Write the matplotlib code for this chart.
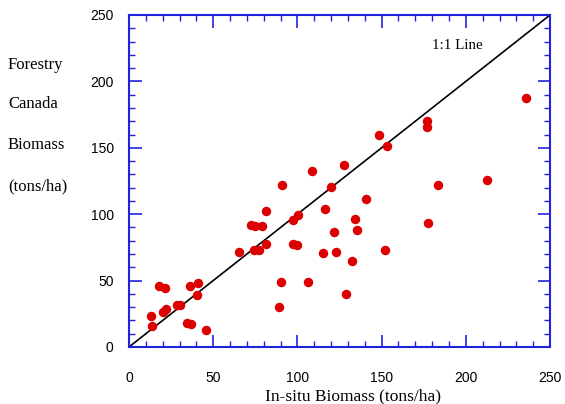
import matplotlib
matplotlib.use("Agg")
import matplotlib.pyplot as plt
from matplotlib.ticker import MultipleLocator

insitu = [12.9, 13.7, 18.0, 21.2, 20.0, 22.0, 28.7, 30.3, 34.2, 37.0, 36.2, 41.2, 40.2, 45.7,
          65.5, 74.2, 77.0, 81.4, 90.1, 89.3, 97.2, 99.6, 106.1, 115.4, 122.7, 121.9, 135.2,
          132.2, 128.7, 152.2, 72.3, 74.8, 78.8, 81.4, 91.0, 97.6, 100.4, 108.7, 120.1, 116.4,
          127.7, 134.4, 140.9, 148.3, 153.0, 176.8, 176.8, 183.3, 177.6, 212.4, 235.7]
forestry = [23.1, 15.8, 45.7, 44.4, 26.6, 28.8, 31.4, 31.4, 18.3, 17.0, 45.7, 48.0, 39.4, 12.5,
            71.8, 73.0, 72.8, 77.6, 49.2, 30.1, 77.8, 76.6, 49.2, 70.8, 71.8, 86.8, 88.1,
            64.8, 39.7, 72.8, 92.1, 90.9, 90.9, 102.6, 121.7, 95.4, 99.2, 132.3, 120.5, 103.9,
            137.0, 96.6, 111.2, 159.6, 151.4, 165.4, 170.4, 121.7, 93.1, 125.5, 187.3]
line_xy = [0, 250]
xticks = [0, 50, 100, 150, 200, 250]
yticks = [0, 50, 100, 150, 200, 250]
ylabel_lines = ["Forestry", "Canada", "Biomass", "(tons/ha)"]

blue = "#2222dd"
fig = plt.figure(figsize=(5.65, 4.04), dpi=100)
ax = fig.add_axes([0.2283, 0.1411, 0.9735 - 0.2283, 0.9629 - 0.1411])
ax.plot(line_xy, line_xy, color="black", lw=1.2, zorder=2)
ax.plot(insitu, forestry, "o", color="#dd0000", ms=5.8, mec="#dd0000", zorder=3)
ax.set_xlim(0, 250)
ax.set_ylim(0, 250)
ax.set_xticks(xticks)
ax.set_yticks(yticks)
ax.xaxis.set_minor_locator(MultipleLocator(10))
ax.yaxis.set_minor_locator(MultipleLocator(10))
for s in ax.spines.values():
    s.set_color(blue)
    s.set_linewidth(1.5)
ax.tick_params(which="both", direction="in", top=True, right=True, color=blue)
ax.tick_params(which="major", length=9, width=1.2)
ax.tick_params(which="minor", length=4.5, width=1.0)
ax.tick_params(axis="x", which="major", pad=17)
ax.tick_params(axis="y", which="major", pad=11)
for lab in ax.get_xticklabels() + ax.get_yticklabels():
    lab.set_fontfamily("Liberation Sans")
    lab.set_fontsize(10)
ax.set_xlabel("In-situ Biomass (tons/ha)", family="Liberation Serif", fontsize=12.5, labelpad=3)
ax.xaxis.label.set_x(0.533)
ax.text(180, 226.7, "1:1 Line", family="Liberation Serif", fontsize=10.8, va="center", ha="left")
ys = [65, 104, 145, 186]
for t, yp in zip(ylabel_lines, ys):
    fig.text(8 / 565, 1 - yp / 404, t, family="Liberation Serif", fontsize=12, va="center", ha="left")
fig.savefig("out.png", dpi=100)
